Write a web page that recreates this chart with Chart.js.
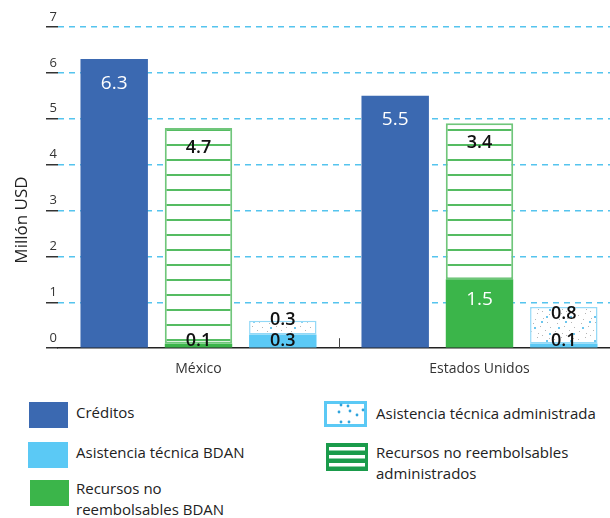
<!DOCTYPE html>
<html lang="es">
<head>
<meta charset="UTF-8">
<title>Recursos por país</title>
<script src="https://cdn.jsdelivr.net/npm/chart.js"></script>
<style>
  body { margin: 0; background: #fff; font-family: "Open Sans", sans-serif; overflow: hidden; }
  #wrap { position: relative; width: 610px; height: 518px; overflow: hidden; }
  #grafico { position: absolute; left: 0; top: 0; }
  .ley-caja { position: absolute; }
  .ley-texto { position: absolute; font-size: 15px; line-height: 21px; color: #222; }
</style>
</head>
<body>
<div id="wrap">
  <canvas id="grafico" width="620" height="394"></canvas>
  <div id="leyenda"></div>
</div>
<script>
// datos (millones de USD)
const paises = ['México', 'Estados Unidos'];
const creditos = [6.3, 5.5];
const recursosBdan = [0.1, 1.5];
const recursosAdministrados = [4.7, 3.4];
const asistenciaBdan = [0.3, 0.1];
const asistenciaAdministrada = [0.3, 0.8];
const ticksY = [0, 1, 2, 3, 4, 5, 6, 7];
const tituloY = 'Millón USD';

const azul = '#3b69b1';
const celeste = '#5bc9f5';
const verde = '#3bb54a';

const canvas = document.getElementById('grafico');
const ctx = canvas.getContext('2d');

// patrón de rayas horizontales (recursos administrados)
function patronRayas() {
    const c = document.createElement('canvas');
    c.width = 8; c.height = 15;
    const g = c.getContext('2d');
    g.fillStyle = '#fff'; g.fillRect(0, 0, 8, 15);
    g.fillStyle = '#55bc62'; g.fillRect(0, 9, 8, 2);
    return ctx.createPattern(c, 'repeat');
}

// patrón de puntos (asistencia administrada)
function patronPuntos() {
    const c = document.createElement('canvas');
    c.width = 24; c.height = 24;
    const g = c.getContext('2d');
    g.fillStyle = '#fff'; g.fillRect(0, 0, 24, 24);
    g.fillStyle = '#b5b5b5';
    [[2,3],[9,1],[15,6],[21,2],[5,11],[12,14],[19,10],[3,19],[10,21],[17,18],[22,15],[7,7],[14,23]].forEach(p => g.fillRect(p[0], p[1], 1, 1));
    g.fillStyle = '#6cc6ee';
    [[6,15],[18,4],[13,9],[21,21]].forEach(p => g.fillRect(p[0], p[1], 2, 2));
    return ctx.createPattern(c, 'repeat');
}

// etiquetas de valores dentro de las barras
const etiquetas = {
    id: 'etiquetas',
    afterDatasetsDraw(chart) {
        const c = chart.ctx;
        const piso = chart.scales.y.getPixelForValue(0);
        c.save();
        c.textAlign = 'center';
        c.textBaseline = 'middle';
        chart.data.datasets.forEach((ds, i) => {
            chart.getDatasetMeta(i).data.forEach((bar, j) => {
                const alto = bar.base - bar.y;
                let y, color = '#111', font = '600 18px "Open Sans"';
                if (ds.etiqueta === 'arriba') {
                    y = bar.y + 24; color = '#fff'; font = '500 19px "Open Sans"';
                } else if (ds.etiqueta === 'rayas') {
                    y = bar.y + 20;
                } else if (ds.etiqueta === 'base') {
                    if (alto > 30) { y = bar.y + 20; color = '#fff'; font = '500 19px "Open Sans"'; }
                    else y = bar.base - 7;
                } else {
                    y = Math.min(bar.y + 7, piso - 7 - 21);
                }
                c.fillStyle = color;
                c.font = font;
                c.fillText(ds.data[j].toFixed(1), bar.x, y);
            });
        });
        c.restore();
    }
};

// marca entre categorías y título del eje Y
const extras = {
    id: 'extras',
    afterDraw(chart) {
        const c = chart.ctx;
        const x = chart.scales.x;
        const abajo = chart.chartArea.bottom;
        const xm = (x.getPixelForValue(0) + x.getPixelForValue(1)) / 2;
        c.save();
        c.strokeStyle = '#444';
        c.lineWidth = 1;
        c.beginPath();
        c.moveTo(Math.round(xm) + 0.5, abajo - 10);
        c.lineTo(Math.round(xm) + 0.5, abajo);
        c.stroke();
        c.translate(22, 220);
        c.rotate(-Math.PI / 2);
        c.fillStyle = '#222';
        c.font = '17px "Open Sans"';
        c.textAlign = 'center';
        c.textBaseline = 'middle';
        c.fillText(tituloY, 0, 0);
        c.restore();
    }
};

const datos = {
    labels: paises,
    datasets: [
        { label: 'Créditos', data: creditos, stack: 'a', backgroundColor: azul, etiqueta: 'arriba' },
        { label: 'Recursos no reembolsables BDAN', data: recursosBdan, stack: 'b', backgroundColor: verde, etiqueta: 'base' },
        { label: 'Recursos no reembolsables administrados', data: recursosAdministrados, stack: 'b',
          backgroundColor: patronRayas(), borderColor: '#70c67b', borderWidth: 2, borderSkipped: false, etiqueta: 'rayas' },
        { label: 'Asistencia técnica BDAN', data: asistenciaBdan, stack: 'c', backgroundColor: celeste, etiqueta: 'base' },
        { label: 'Asistencia técnica administrada', data: asistenciaAdministrada, stack: 'c',
          backgroundColor: patronPuntos(), borderColor: '#93d9f7', borderWidth: 1.5, borderSkipped: false, etiqueta: 'encima' }
    ]
};

const config = {
    type: 'bar',
    data: datos,
    options: {
        responsive: false,
        animation: false,
        devicePixelRatio: 1,
        barPercentage: 0.8,
        categoryPercentage: 0.9,
        layout: { padding: { top: 27, right: 0, bottom: 5, left: 0 } },
        plugins: { legend: { display: false }, tooltip: { enabled: false } },
        scales: {
            x: {
                stacked: true,
                grid: { display: false, drawTicks: false },
                border: { display: true, color: '#222', width: 1.5 },
                ticks: { padding: 12, color: '#333', font: { size: 14, family: '"Open Sans"' } }
            },
            y: {
                stacked: true,
                min: ticksY[0],
                max: ticksY[ticksY.length - 1],
                afterFit(s) { s.width = 58; },
                ticks: { stepSize: ticksY[1] - ticksY[0], padding: -11, labelOffset: -10, color: '#333',
                         font: { size: 13, family: '"Open Sans"' } },
                grid: {
                    color: (c) => c.tick && c.tick.value === 0 ? 'rgba(0,0,0,0)' : '#55c4ee',
                    lineWidth: 1.5,
                    tickColor: '#333',
                    tickLength: 12,
                    tickWidth: 1.5
                },
                border: { display: false, dash: [6, 5] }
            }
        }
    },
    plugins: [etiquetas, extras]
};

new Chart(canvas, config);

// leyenda en HTML
const leyenda = [
    { nombre: 'Créditos', tipo: 'solido', color: azul, caja: [29, 402, 39, 26], texto: [76, 402, 0] },
    { nombre: 'Asistencia técnica BDAN', tipo: 'solido', color: celeste, caja: [28, 442, 40, 26], texto: [76, 442, 0] },
    { nombre: 'Recursos no reembolsables BDAN', tipo: 'solido', color: verde, caja: [30, 480, 39, 26], texto: [76, 478, 160] },
    { nombre: 'Asistencia técnica administrada', tipo: 'puntos', caja: [324, 401, 43, 26], texto: [376, 403, 0] },
    { nombre: 'Recursos no reembolsables administrados', tipo: 'rayas', caja: [326, 443, 42, 28], texto: [376, 442, 225] }
];

const cont = document.getElementById('leyenda');
leyenda.forEach(item => {
    const k = document.createElement('canvas');
    k.className = 'ley-caja';
    const [x, y, w, h] = item.caja;
    k.width = w; k.height = h;
    k.style.left = x + 'px'; k.style.top = y + 'px';
    const g = k.getContext('2d');
    if (item.tipo === 'solido') {
        g.fillStyle = item.color; g.fillRect(0, 0, w, h);
    } else if (item.tipo === 'puntos') {
        g.fillStyle = '#fff'; g.fillRect(0, 0, w, h);
        g.strokeStyle = celeste; g.lineWidth = 3; g.strokeRect(1.5, 1.5, w - 3, h - 3);
        g.fillStyle = '#2fa3dc';
        [[17,4],[24,5],[15,11],[26,10],[33,14],[39,9],[17,21],[25,21]].forEach(p => {
            g.beginPath(); g.arc(p[0], p[1], 1.4, 0, Math.PI * 2); g.fill();
        });
    } else {
        g.fillStyle = '#1a9b4b'; g.fillRect(0, 0, w, h);
        g.fillStyle = '#fff';
        [4, 12, 20].forEach(yy => g.fillRect(3, yy, w - 6, 3.5));
    }
    cont.appendChild(k);

    const t = document.createElement('div');
    t.className = 'ley-texto';
    t.textContent = item.nombre;
    t.style.left = item.texto[0] + 'px';
    t.style.top = item.texto[1] + 'px';
    if (item.texto[2]) t.style.width = item.texto[2] + 'px';
    else t.style.whiteSpace = 'nowrap';
    cont.appendChild(t);
});
</script>
</body>
</html>
